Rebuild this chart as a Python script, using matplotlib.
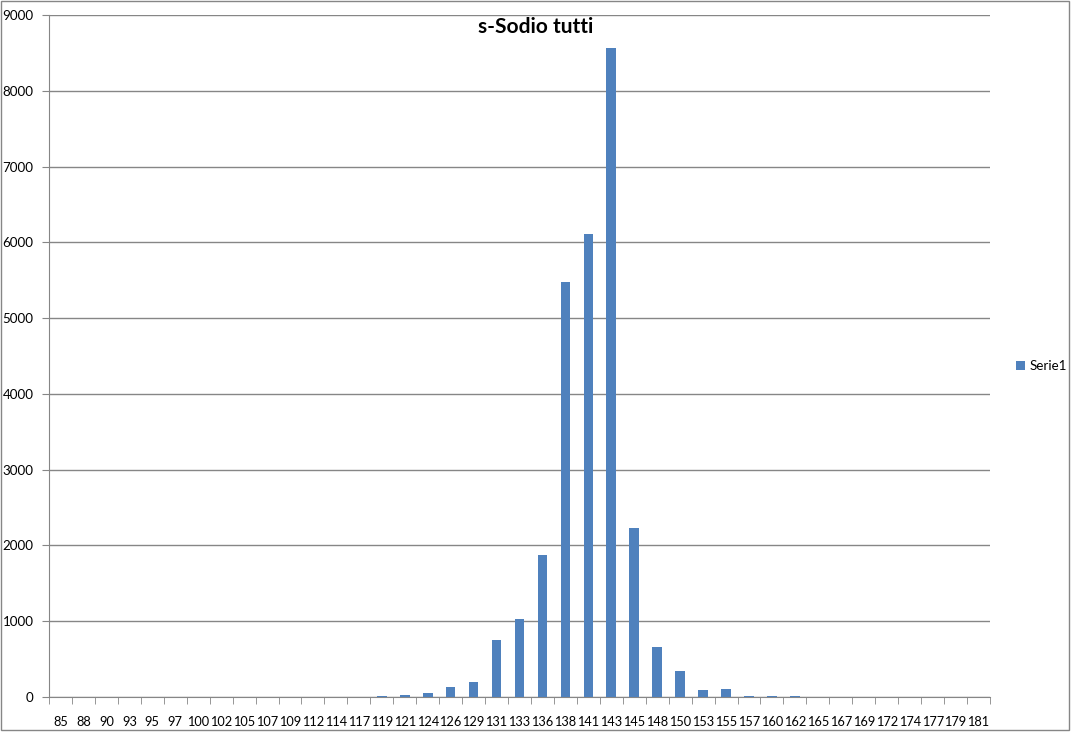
import matplotlib.pyplot as plt
import numpy as np

categories = [85, 88, 90, 93, 95, 97, 100, 102, 105, 107, 109, 112, 114, 117,
              119, 121, 124, 126, 129, 131, 133, 136, 138, 141, 143, 145, 148,
              150, 153, 155, 157, 160, 162, 165, 167, 169, 172, 174, 177, 179, 181]
counts = [0, 0, 0, 0, 0, 0, 0, 0, 0, 0, 0, 0, 0, 0,
          10, 30, 57, 136, 202, 756, 1033, 1875, 5470, 6110, 8560, 2230, 664,
          347, 97, 110, 17, 15, 15, 0, 0, 0, 0, 0, 0, 0, 0]
series_name = "Serie1"
chart_title = "s-Sodio tutti"


def main():
    plt.rcParams['font.family'] = ['Lato', 'DejaVu Sans']
    grey = '#868686'
    fig = plt.figure(figsize=(10.72, 7.33), dpi=100)
    ax = fig.add_axes([49 / 1072, 1 - 697 / 733, (990 - 49) / 1072, (697 - 15) / 733])

    x = np.arange(len(categories))
    ax.bar(x, counts, width=0.42, color='#4F81BD', label=series_name, zorder=3)

    ax.set_xlim(-0.5, len(categories) - 0.5)
    ax.set_ylim(0, 9000)
    ax.set_yticks(np.arange(0, 9001, 1000))
    ax.yaxis.grid(True, color=grey, linewidth=1, zorder=0)
    ax.tick_params(axis='y', length=5, color=grey, labelsize=9.6, pad=6)

    ax.set_xticks(x)
    ax.set_xticklabels([str(c) for c in categories], fontsize=9.2)
    ax.tick_params(axis='x', length=0, pad=14)
    ax.set_xticks(np.arange(-0.5, len(categories), 1), minor=True)
    ax.tick_params(axis='x', which='minor', length=5, color=grey)

    for side in ['top', 'right']:
        ax.spines[side].set_visible(False)
    for side in ['left', 'bottom']:
        ax.spines[side].set_color(grey)

    fig.text(0.5, 1 - 27 / 733, chart_title, ha='center', va='center',
             fontsize=15, fontweight='bold')

    fig.legend(loc='center left', bbox_to_anchor=(1004 / 1072, 1 - 366 / 733),
               frameon=False, fontsize=9.6, handlelength=0.7, handleheight=0.7,
               handletextpad=0.3)

    border = plt.Rectangle((0.001, 0.004), 0.996, 0.994, transform=fig.transFigure,
                           fill=False, edgecolor=grey, linewidth=1)
    fig.patches.append(border)

    fig.savefig('out.png', dpi=100)


if __name__ == '__main__':
    main()
